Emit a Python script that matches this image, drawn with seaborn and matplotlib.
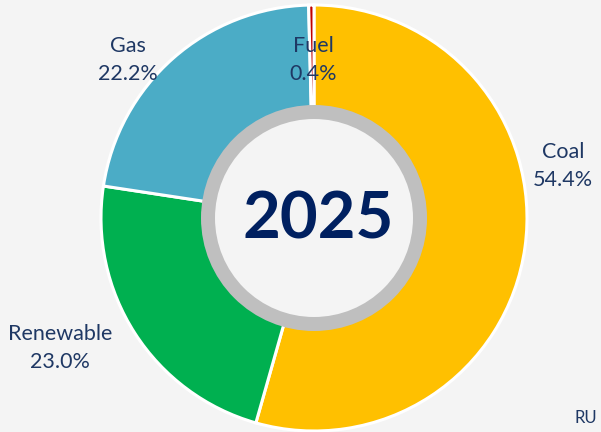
import numpy as np
import matplotlib
matplotlib.use("Agg")
import matplotlib.pyplot as plt
import seaborn as sns

# ===================== DATA =====================
sources = ["Coal", "Renewable", "Gas", "Fuel"]
shares = [54.4, 23.0, 22.2, 0.4]
colors = ["#FFC000", "#00B050", "#4BACC6", "#C00000"]
year = "2025"

# ===================== STYLE =====================
sns.set_theme(style="white")
plt.rcParams["font.family"] = ["Lato", "DejaVu Sans"]
bg = "#F4F4F4"
navy = "#002060"
label_col = "#1F3864"

W, H = 601, 432
fig = plt.figure(figsize=(W / 100, H / 100), dpi=100, facecolor=bg)
ax = fig.add_axes([0, 0, 1, 1])
ax.set_facecolor(bg)

cx, cy = 314, H - 218
r_out = 213

# ===================== DONUT =====================
ax.pie(shares, colors=colors, startangle=90, counterclock=False,
       center=(cx, cy), radius=r_out, frame=True,
       wedgeprops=dict(edgecolor="white", linewidth=2.2))
ax.set_xlim(0, W)
ax.set_ylim(0, H)
ax.set_aspect("equal")
ax.axis("off")

# centre ring + hole
ax.add_patch(plt.Circle((cx, cy), 113, facecolor="#BFBFBF", edgecolor="none", zorder=3))
ax.add_patch(plt.Circle((cx, cy), 99, facecolor=bg, edgecolor="none", zorder=4))
ax.text(cx + 4, cy - 2, year, ha="center", va="center", fontsize=47,
        fontweight="bold", color=navy, zorder=5)

# ===================== LABELS =====================
label_pos = {"Coal": (563, 166), "Renewable": (60, 348),
             "Gas": (128, 60), "Fuel": (313, 60)}
for name, val in zip(sources, shares):
    x, y = label_pos[name]
    ax.text(x, H - y, f"{name}\n{val:.1f}%", ha="center", va="center",
            fontsize=15.5, color=label_col, linespacing=1.55, zorder=6)

ax.text(597, H - 418, "RU", ha="right", va="center", fontsize=12,
        color=label_col, zorder=6)

plt.savefig("out.png", dpi=100, facecolor=bg)
plt.close()
